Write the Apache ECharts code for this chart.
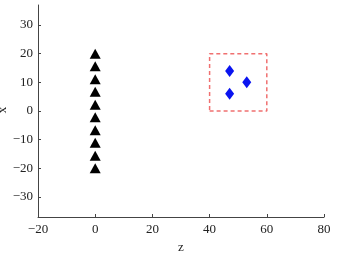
<!DOCTYPE html>
<html><head><meta charset="utf-8">
<script src="https://cdn.jsdelivr.net/npm/echarts@6/dist/echarts.min.js"></script>
<style>html,body{margin:0;padding:0;background:#fff}#c{width:338px;height:256px}</style>
</head><body><div id="c"></div>
<script>
const triZ = [0,0,0,0,0,0,0,0,0,0];
const triX = [-20,-15.6,-11.1,-6.7,-2.2,2.2,6.7,11.1,15.6,20];
const diaZ = [47,53,47];
const diaX = [14,10,6];
const boxZ = [40,60,60,40,40];
const boxX = [0,0,20,20,0];
const xTicks = [-20,0,20,40,60,80];
const yTicks = [-30,-20,-10,0,10,20,30];

const font = 'Liberation Serif';
const fmt = v=>String(v).replace('-','\u2212');
const chart = echarts.init(document.getElementById('c'));
chart.setOption({
  animation:false,
  grid:{left:38,right:14,top:5,bottom:39,outerBoundsMode:'none',containLabel:false},
  graphic:[{type:'text',x:3,y:110,rotation:Math.PI/2,
    style:{text:'x',fontFamily:font,fontSize:13,fill:'#222',align:'center',verticalAlign:'middle'}}],
  xAxis:{type:'value',min:-20,max:80,interval:20,name:'z',nameLocation:'middle',nameGap:21,
    nameTextStyle:{fontFamily:font,fontSize:13,color:'#222'},
    splitLine:{show:false},
    axisLine:{onZero:false,lineStyle:{color:'#444',width:1}},
    axisTick:{inside:true,length:3,lineStyle:{color:'#444'}},
    axisLabel:{fontFamily:font,fontSize:13,color:'#222',margin:6,showMinLabel:true,showMaxLabel:true,formatter:fmt}},
  yAxis:{type:'value',min:-37,max:37,
    splitLine:{show:false},
    axisLine:{onZero:false,lineStyle:{color:'#444',width:1}},
    axisTick:{inside:true,length:3,lineStyle:{color:'#444'},customValues:yTicks},
    axisLabel:{fontFamily:font,fontSize:13,color:'#222',margin:5,customValues:yTicks,formatter:fmt}},
  series:[
    {type:'line',data:boxZ.map((z,i)=>[z,boxX[i]]),symbol:'none',
      lineStyle:{color:'#f07070',width:1.5,type:[4,3]}},
    {type:'scatter',data:triZ.map((z,i)=>[z,triX[i]]),symbol:'triangle',symbolSize:[11,10],
      itemStyle:{color:'#000',opacity:1}},
    {type:'scatter',data:diaZ.map((z,i)=>[z,diaX[i]]),symbol:'diamond',symbolSize:[9,12],
      itemStyle:{color:'#0a14f0',opacity:1}}
  ]
});
</script></body></html>
